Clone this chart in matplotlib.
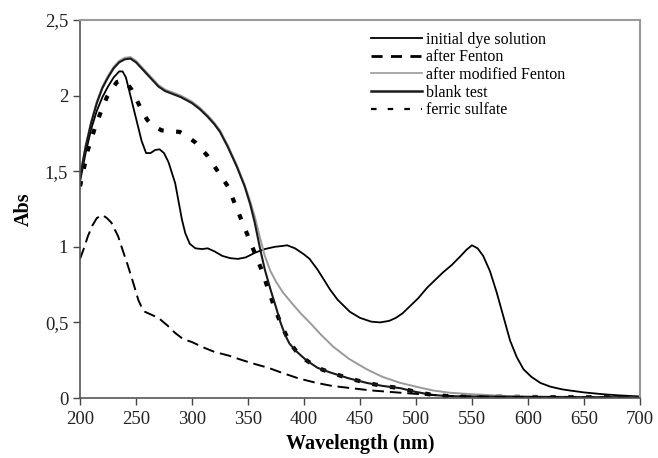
import matplotlib
matplotlib.use("Agg")
import matplotlib.pyplot as plt
from matplotlib.lines import Line2D
from matplotlib.ticker import FuncFormatter

plt.rcParams['font.family'] = ['Liberation Serif', 'DejaVu Serif']

# initial dye solution
wl_dye = [200, 205, 210, 215, 220, 225, 230, 235, 238, 241, 245, 250, 255, 259, 263, 267,
          271, 275, 279, 282, 285, 288, 291, 294, 298, 303, 309, 314, 320, 327, 334, 341,
          348, 356, 365, 374, 380, 385, 392, 400, 405, 412, 418, 423, 430, 441, 450, 460,
          468, 476, 482, 488, 495, 502, 510, 517, 524, 532, 540, 545, 550, 555, 560, 566,
          572, 578, 584, 590, 596, 603, 611, 620, 630, 637, 650, 667, 680, 700]
abs_dye = [1.43, 1.62, 1.78, 1.90, 1.99, 2.06, 2.12, 2.16, 2.16, 2.12, 2.00, 1.85, 1.70, 1.62,
           1.62, 1.64, 1.645, 1.62, 1.56, 1.49, 1.42, 1.30, 1.18, 1.09, 1.02, 0.99, 0.985,
           0.99, 0.97, 0.94, 0.925, 0.92, 0.93, 0.96, 0.985, 1.0, 1.005, 1.01, 0.99, 0.95,
           0.92, 0.85, 0.78, 0.72, 0.65, 0.57, 0.53, 0.505, 0.50, 0.51, 0.53, 0.56, 0.61,
           0.66, 0.73, 0.78, 0.83, 0.88, 0.94, 0.98, 1.01, 0.99, 0.94, 0.84, 0.70, 0.54,
           0.38, 0.27, 0.19, 0.14, 0.10, 0.075, 0.058, 0.05, 0.037, 0.025, 0.018, 0.01]

# after Fenton
wl_fenton = [200, 207, 213, 218, 224, 229, 233, 238, 242, 246, 252, 256, 260, 265, 273, 280,
             289, 296, 303, 308, 314, 323, 332, 338, 344, 350, 356, 362, 368, 374, 380, 387,
             393, 402, 412, 423, 440, 456, 470, 486, 500, 515, 530, 550, 600, 650, 700]
abs_fenton = [1.40, 1.64, 1.78, 1.88, 1.99, 2.05, 2.09, 2.10, 2.08, 2.04, 1.95, 1.89, 1.84,
              1.80, 1.77, 1.765, 1.76, 1.73, 1.69, 1.65, 1.60, 1.50, 1.40, 1.29, 1.18, 1.07,
              0.96, 0.85, 0.72, 0.59, 0.48, 0.37, 0.31, 0.25, 0.20, 0.17, 0.13, 0.10, 0.08,
              0.065, 0.04, 0.02, 0.012, 0.01, 0.007, 0.005, 0.005]

# after modified Fenton
wl_mod = [200, 205, 210, 215, 220, 225, 230, 235, 240, 245, 250, 255, 260, 265, 270, 276,
          283, 290, 300, 307, 314, 320, 325, 332, 340, 347, 352, 356, 360, 365, 370, 375,
          381, 390, 397, 405, 415, 426, 440, 456, 470, 486, 500, 515, 530, 550, 575, 600,
          650, 700]
abs_mod = [1.47, 1.67, 1.83, 1.96, 2.06, 2.13, 2.19, 2.23, 2.25, 2.255, 2.23, 2.19, 2.15,
           2.11, 2.07, 2.04, 2.02, 2.00, 1.96, 1.92, 1.87, 1.82, 1.77, 1.67, 1.54, 1.41,
           1.30, 1.20, 1.08, 0.94, 0.84, 0.77, 0.70, 0.62, 0.56, 0.50, 0.42, 0.34, 0.26,
           0.19, 0.14, 0.10, 0.075, 0.05, 0.035, 0.025, 0.015, 0.01, 0.007, 0.005]

# blank test
wl_blank = [200, 205, 210, 215, 220, 225, 230, 235, 240, 245, 250, 255, 260, 265, 270, 276,
            283, 290, 300, 307, 314, 320, 325, 332, 340, 347, 352, 356, 361, 365, 370, 375,
            379, 383, 387, 393, 402, 412, 423, 440, 456, 470, 486, 500, 515, 530, 550, 600,
            650, 700]
abs_blank = [1.46, 1.66, 1.82, 1.95, 2.05, 2.12, 2.18, 2.22, 2.24, 2.245, 2.22, 2.18, 2.14,
             2.10, 2.06, 2.03, 2.01, 1.99, 1.95, 1.91, 1.86, 1.81, 1.76, 1.66, 1.53, 1.40,
             1.28, 1.16, 0.98, 0.85, 0.72, 0.60, 0.50, 0.42, 0.36, 0.31, 0.25, 0.20, 0.17,
             0.13, 0.10, 0.08, 0.065, 0.04, 0.02, 0.012, 0.01, 0.007, 0.005, 0.005]

# ferric sulfate
wl_ferric = [200, 204, 207, 211, 215, 220, 224, 228, 234, 238, 243, 248, 252, 255, 258, 264,
             270, 278, 285, 292, 300, 310, 320, 333, 345, 356, 368, 381, 395, 411, 425, 441,
             460, 486, 510, 530, 550, 600, 650, 700]
abs_ferric = [0.92, 1.00, 1.07, 1.14, 1.19, 1.21, 1.19, 1.16, 1.07, 0.98, 0.87, 0.75, 0.65,
              0.60, 0.57, 0.55, 0.53, 0.48, 0.43, 0.39, 0.37, 0.335, 0.305, 0.28, 0.25, 0.225,
              0.20, 0.165, 0.13, 0.10, 0.08, 0.066, 0.05, 0.035, 0.022, 0.014, 0.01, 0.006,
              0.004, 0.003]

labels = ['initial dye solution', 'after Fenton', 'after modified Fenton',
          'blank test', 'ferric sulfate']
x_ticks = [200, 250, 300, 350, 400, 450, 500, 550, 600, 650, 700]
y_ticks = [0, 0.5, 1, 1.5, 2, 2.5]

fig = plt.figure(figsize=(6.58, 4.58), dpi=100)
ax = fig.add_axes([0.1216, 0.131, 0.851, 0.8253])

ax.plot(wl_dye, abs_dye, color='black', lw=1.3)
ax.plot(wl_fenton, abs_fenton, color='black', lw=3.0, dashes=(1.3, 3.0),
        dash_capstyle='butt')
ax.plot(wl_mod, abs_mod, color='#9a9a9a', lw=1.4)
ax.plot(wl_blank, abs_blank, color='#1a1a1a', lw=1.5)
ax.plot(wl_ferric, abs_ferric, color='black', lw=1.4, dashes=(6, 3))

ax.set_xlim(200, 700)
ax.set_ylim(0, 2.5)
ax.set_xticks(x_ticks)
ax.set_yticks(y_ticks)
ax.yaxis.set_major_formatter(FuncFormatter(lambda v, p: ('%g' % v).replace('.', ',')))
ax.tick_params(direction='out', length=5, width=1, colors='#444444',
               labelcolor='#222222', labelsize=13.5)
ax.tick_params(axis='x', pad=4)

for side in ['left', 'bottom']:
    ax.spines[side].set_color('#555555')
    ax.spines[side].set_linewidth(1.2)
for side in ['top', 'right']:
    ax.spines[side].set_color('#9a9a9a')
    ax.spines[side].set_linewidth(1.5)

ax.set_xlabel('Wavelength (nm)', fontsize=14.5, fontweight='bold', labelpad=5)
ax.set_ylabel('Abs', fontsize=14.5, fontweight='bold', labelpad=8)

# legend keys as drawn in the original figure
handles = [
    Line2D([], [], color='black', lw=1.3),
    Line2D([], [], color='black', lw=2.0, dashes=(4, 3)),
    Line2D([], [], color='#9a9a9a', lw=1.2),
    Line2D([], [], color='#1a1a1a', lw=1.8),
    Line2D([], [], color='black', lw=1.6, dashes=(2.5, 5)),
]
ax.legend(handles, labels, loc='upper left', bbox_to_anchor=(0.552, 0.948),
          bbox_transform=fig.transFigure, frameon=False, fontsize=11.5,
          handlelength=3.2, handletextpad=0.25, labelspacing=0.1, borderpad=0)

fig.savefig('out.png', dpi=100)
